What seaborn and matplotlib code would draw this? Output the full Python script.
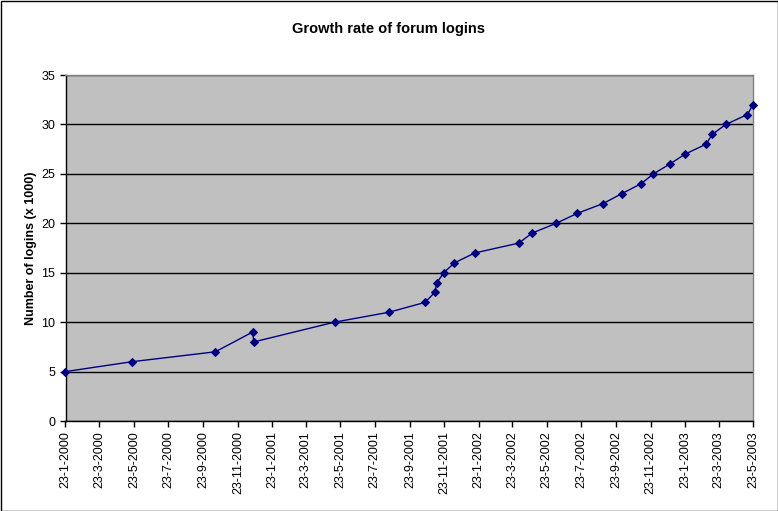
import pandas as pd
import matplotlib
matplotlib.use("Agg")
import matplotlib.pyplot as plt
import seaborn as sns

# login dates and cumulative logins in thousands
dates = ["2000-01-23", "2000-05-20", "2000-10-14", "2000-12-19", "2000-12-21",
         "2001-05-13", "2001-08-17", "2001-10-20", "2001-11-06", "2001-11-10",
         "2001-11-22", "2001-12-11", "2002-01-16", "2002-04-04", "2002-04-27",
         "2002-06-09", "2002-07-16", "2002-08-31", "2002-10-03", "2002-11-06",
         "2002-11-28", "2002-12-27", "2003-01-23", "2003-03-01", "2003-03-12",
         "2003-04-05", "2003-05-13", "2003-05-23"]
logins = [5, 6, 7, 9, 8,
          10, 11, 12, 13, 14,
          15, 16, 17, 18, 19,
          20, 21, 22, 23, 24,
          25, 26, 27, 28, 29,
          30, 31, 32]
y_ticks = [0, 5, 10, 15, 20, 25, 30, 35]

df = pd.DataFrame({"date": pd.to_datetime(dates), "logins": logins})

sns.set_style("white")
plt.rcParams['font.family'] = ['Liberation Sans', 'DejaVu Sans']
plt.rcParams['text.color'] = 'black'
plt.rcParams['axes.labelcolor'] = 'black'
plt.rcParams['xtick.color'] = 'black'
plt.rcParams['ytick.color'] = 'black'

fig = plt.figure(figsize=(7.78, 5.11), dpi=100)
ax = fig.add_axes([65.5 / 778, 1 - 421 / 511, (753 - 65.5) / 778, (421 - 75) / 511])

sns.lineplot(data=df, x="date", y="logins", ax=ax, color="#000080", linewidth=1,
             marker="D", markersize=4.5, markeredgecolor="#000080",
             markerfacecolor="#000080", sort=False, clip_on=False, zorder=5)

ax.set_facecolor("#C0C0C0")
tick_dates = pd.date_range("2000-01-23", periods=21, freq=pd.DateOffset(months=2))
ax.set_xticks(tick_dates)
ax.set_xticklabels([f"{d.day}-{d.month}-{d.year}" for d in tick_dates],
                   rotation=90, fontsize=9)
ax.set_xlim(tick_dates[0], tick_dates[-1])
ax.set_ylim(0, 35)
ax.set_yticks(y_ticks)
ax.tick_params(axis="y", labelsize=9)
ax.yaxis.grid(True, color="black", linewidth=1)
ax.set_axisbelow(True)
ax.tick_params(direction="out", length=4, width=1, color="black", bottom=True, left=True)

for side in ["top", "right"]:
    ax.spines[side].set_color("#808080")
for side in ["left", "bottom"]:
    ax.spines[side].set_color("black")
for s in ax.spines.values():
    s.set_linewidth(1)

ax.set_xlabel("")
ax.set_ylabel("Number of logins (x 1000)", fontsize=9, fontweight="bold", labelpad=3)
fig.text(389 / 778, 1 - 29 / 511, "Growth rate of forum logins",
         ha="center", va="center", fontsize=10.5, fontweight="bold")

fig.patches.append(plt.Rectangle((0.5 / 778, 0.5 / 511), 777 / 778, 510 / 511,
                                 transform=fig.transFigure, fill=False,
                                 edgecolor="black", linewidth=1))

fig.savefig("out.png", dpi=100)
